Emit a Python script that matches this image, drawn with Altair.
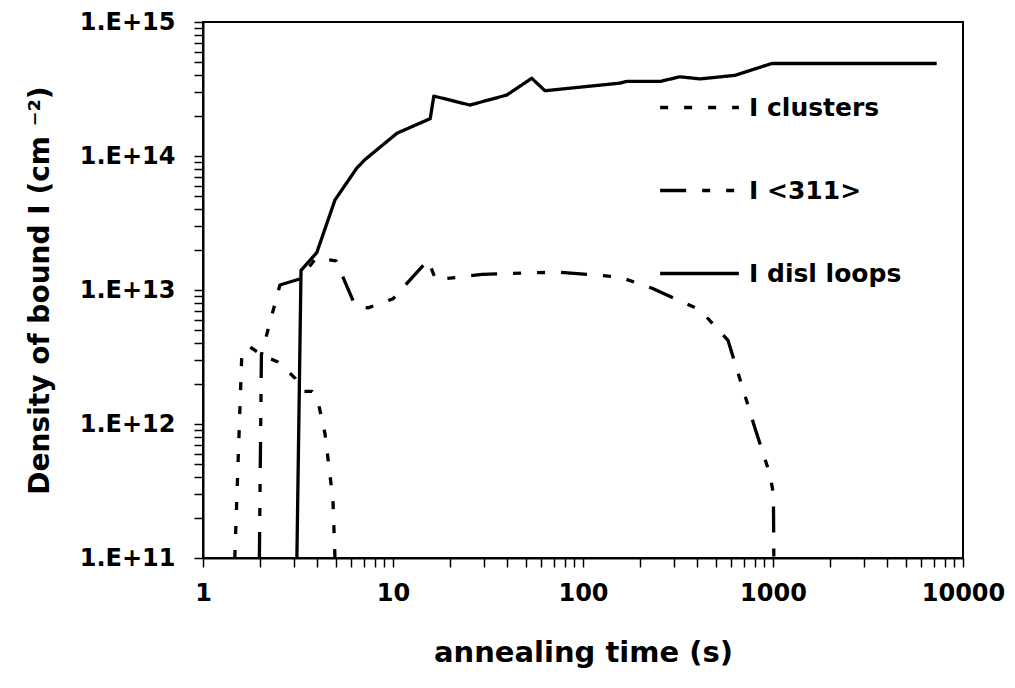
import altair as alt
import pandas as pd

# ---- data ----
series_names = ["I clusters", "I <311>", "I disl loops"]

clusters_t = [1.47, 1.60, 1.75, 2.02, 2.48, 3.05, 3.36, 3.75, 4.08, 4.39, 4.83, 4.95]
clusters_d = [1e11, 3.3e12, 3.8e12, 3.3e12, 2.9e12, 2.2e12, 1.75e12, 1.75e12, 1.36e12, 8.4e11, 2.7e11, 1e11]

s311_t = [1.98, 2.03, 2.54, 3.24, 3.93, 5.01, 6.31, 7.39, 10.0, 15.3, 16.8, 29.4, 73.9,
          156, 231, 413, 580, 804, 964, 1005, 1010]
s311_d = [1e11, 3.3e12, 1.09e13, 1.21e13, 1.73e13, 1.65e13, 7.7e12, 7.35e12, 8.6e12, 1.67e13,
          1.19e13, 1.31e13, 1.36e13, 1.25e13, 1.03e13, 7.1e12, 4.2e12, 9.3e11, 4.2e11, 3.0e11, 1e11]

loops_t = [3.12, 3.28, 3.97, 4.95, 6.44, 7.12, 10.5, 15.7, 16.4, 25.4, 39.7, 53.7, 63.1,
           157, 170, 254, 324, 413, 631, 984, 7270]
loops_d = [1e11, 1.4e13, 1.9e13, 4.7e13, 8.1e13, 9.4e13, 1.48e14, 1.9e14, 2.8e14, 2.4e14,
           2.85e14, 3.8e14, 3.07e14, 3.5e14, 3.6e14, 3.6e14, 3.9e14, 3.76e14, 4.0e14, 4.9e14, 4.9e14]

x_ticks = [m * 10 ** k for k in range(4) for m in range(1, 10)] + [10000]
y_ticks = [m * 10.0 ** k for k in range(11, 15) for m in range(1, 10)] + [1e15]

rows = []
for name, ts, ds in zip(series_names, [clusters_t, s311_t, loops_t], [clusters_d, s311_d, loops_d]):
    for i, (t, d) in enumerate(zip(ts, ds)):
        rows.append({"series": name, "t": t, "d": d, "idx": i})
df = pd.DataFrame(rows)

FONT = "DejaVu Sans"
is_decade = "abs(log(datum.value)/LN10 - round(log(datum.value)/LN10)) < 0.001"

chart = alt.Chart(df).mark_line(
    color="black", strokeWidth=3.3, clip=True, strokeJoin="round"
).encode(
    x=alt.X(
        "t:Q",
        scale=alt.Scale(type="log", domain=[1, 10000], nice=False),
        axis=alt.Axis(
            values=x_ticks,
            labelExpr=f"{is_decade} ? format(datum.value, 'd') : ''",
            title="annealing time (s)",
            grid=False, labelOverlap=False, labelFlush=False,
            tickSize=9, labelPadding=14, titlePadding=33, titleFontSize=29,
        ),
    ),
    y=alt.Y(
        "d:Q",
        scale=alt.Scale(type="log", domain=[1e11, 1e15], nice=False),
        axis=alt.Axis(
            values=y_ticks,
            labelExpr=f"{is_decade} ? '1.E+' + round(log(datum.value)/LN10) : ''",
            title="Density of bound I (cm ⁻²)",
            grid=False, labelOverlap=False, labelFlush=False,
            tickSize=9, labelPadding=19, titlePadding=25, titleFontSize=28,
        ),
    ),
    strokeDash=alt.StrokeDash(
        "series:N",
        scale=alt.Scale(domain=series_names,
                        range=[[8, 16], [26, 16, 8, 16, 8, 16], [1, 0]]),
        legend=alt.Legend(
            title=None, orient="none", legendX=455, legendY=44,
            symbolType="stroke", symbolSize=6200, symbolStrokeWidth=3.5,
            symbolStrokeColor="black", labelFont=FONT, labelFontSize=25,
            labelFontWeight="bold", labelColor="black", labelOffset=8,
            labelLimit=400, rowPadding=28, padding=0,
        ),
    ),
    order=alt.Order("idx:Q"),
).properties(
    width=760, height=536,
    background="white",
    autosize=alt.AutoSizeParams(type="none"),
    padding={"left": 195, "top": 14, "right": 44, "bottom": 120},
).configure_view(
    stroke="black", strokeWidth=2
).configure_axis(
    domainColor="black", domainWidth=2, tickColor="black", tickWidth=1.5,
    labelFont=FONT, labelFontSize=24, labelFontWeight="bold", labelColor="black",
    titleFont=FONT, titleFontWeight="bold", titleColor="black",
)

chart.save("out.html", embed_options={"renderer": "svg", "actions": False})
